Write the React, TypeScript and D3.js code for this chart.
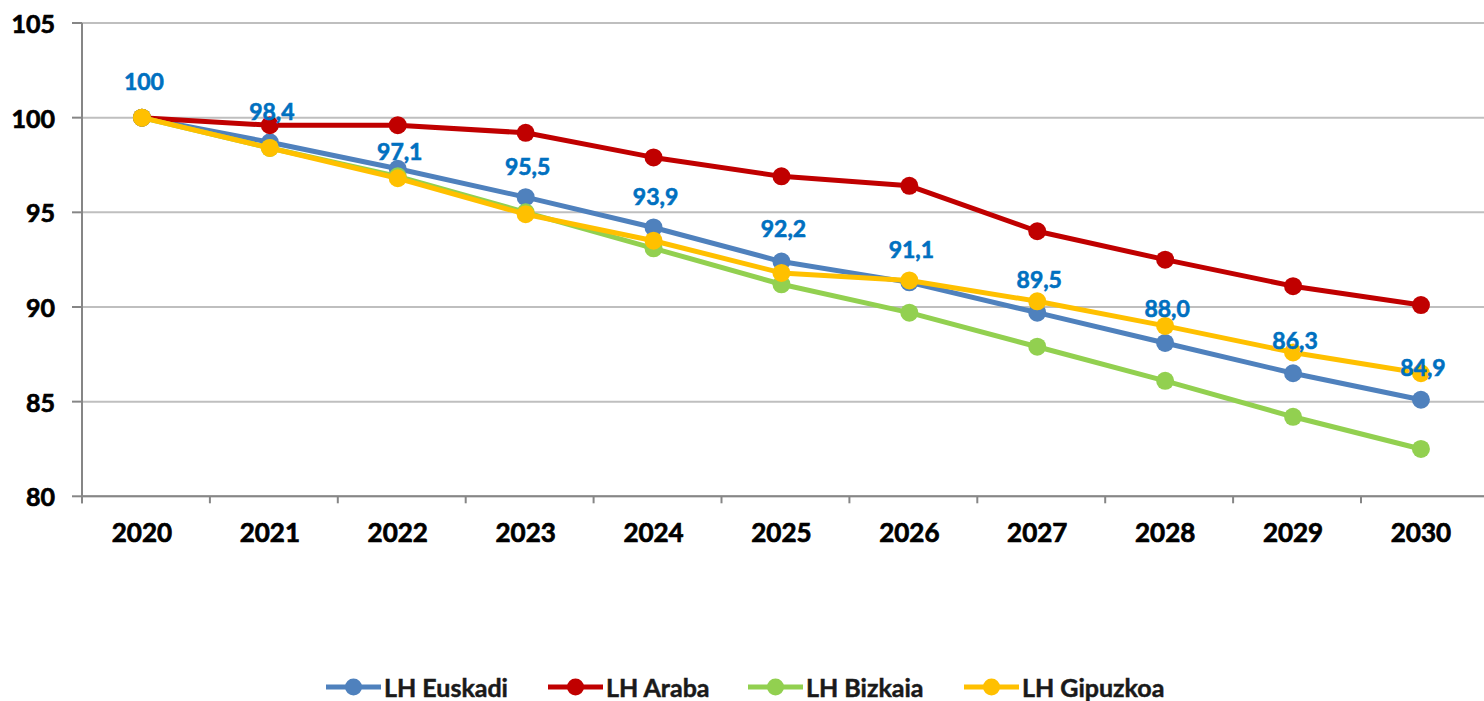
import React from "react";
import * as d3 from "d3";

const years = ["2020", "2021", "2022", "2023", "2024", "2025", "2026", "2027", "2028", "2029", "2030"];
const euskadi = [100, 98.7, 97.3, 95.8, 94.2, 92.4, 91.3, 89.7, 88.1, 86.5, 85.1];
const araba = [100, 99.6, 99.6, 99.2, 97.9, 96.9, 96.4, 94.0, 92.5, 91.1, 90.1];
const bizkaia = [100, 98.4, 96.9, 95.0, 93.1, 91.2, 89.7, 87.9, 86.1, 84.2, 82.5];
const gipuzkoa = [100, 98.4, 96.8, 94.9, 93.5, 91.8, 91.4, 90.3, 89.0, 87.6, 86.5];
const labelValues = [100, 98.4, 97.1, 95.5, 93.9, 92.2, 91.1, 89.5, 88.0, 86.3, 84.9];
const yTicks = [80, 85, 90, 95, 100, 105];

const seriesNames = ["LH Euskadi", "LH Araba", "LH Bizkaia", "LH Gipuzkoa"];
const seriesData = [euskadi, araba, bizkaia, gipuzkoa];
const colors = ["#4F81BD", "#C00000", "#92D050", "#FFC000"];

const W = 1484;
const H = 701;
const FONT = "Lato, 'Open Sans', sans-serif";

export default function App() {
  const x = d3.scaleBand<string>().domain(years).range([82, 82 + 11 * 127.9]).padding(0);
  const cx = (yr: string) => (x(yr) as number) + x.bandwidth() / 2 - 4;
  const y = d3.scaleLinear().domain([80, 105]).range([496.3, 23]);
  const line = d3
    .line<number>()
    .x((_, i) => cx(years[i]))
    .y((d) => y(d));

  const labelShift = (i: number) => (i === 2 ? -22 : -37);
  const legendX = [326, 548, 748, 964];
  const legendY = 687;

  return (
    <svg width={W} height={H} style={{ position: "absolute", left: 0, top: 0, background: "#fff" }}>
      {yTicks.map((t) => (
        <line key={"g" + t} x1={82} x2={W} y1={y(t)} y2={y(t)} stroke="#BFBFBF" strokeWidth={2} />
      ))}
      <line x1={82} x2={82} y1={y(105)} y2={y(80) + 7} stroke="#868686" strokeWidth={2} />
      {yTicks.map((t) => (
        <line key={"yt" + t} x1={72} x2={82} y1={y(t)} y2={y(t)} stroke="#868686" strokeWidth={2} />
      ))}
      {yTicks.map((t) => (
        <text
          key={"yl" + t}
          x={55}
          y={y(t)}
          textAnchor="end"
          dominantBaseline="central"
          fontFamily={FONT}
          fontWeight="bold"
          fontSize={25}
          fill="#000"
          stroke="#000"
          strokeWidth={0.7}
        >
          {t}
        </text>
      ))}
      <line x1={82} x2={W} y1={y(80)} y2={y(80)} stroke="#868686" strokeWidth={2} />
      {years.map((yr) => (
        <line
          key={"xt" + yr}
          x1={x(yr) as number}
          x2={x(yr) as number}
          y1={y(80)}
          y2={y(80) + 7}
          stroke="#868686"
          strokeWidth={2}
        />
      ))}
      {years.map((yr) => (
        <text
          key={"xl" + yr}
          x={cx(yr)}
          y={541.5}
          textAnchor="middle"
          fontFamily={FONT}
          fontWeight="bold"
          fontSize={26}
          fill="#000"
          stroke="#000"
          strokeWidth={0.7}
        >
          {yr}
        </text>
      ))}
      {seriesData.map((s, si) => (
        <g key={"s" + si}>
          <path d={line(s) as string} fill="none" stroke={colors[si]} strokeWidth={5} strokeLinejoin="round" />
          {s.map((v, i) => (
            <circle key={i} cx={cx(years[i])} cy={y(v)} r={9} fill={colors[si]} />
          ))}
        </g>
      ))}
      {labelValues.map((v, i) => (
        <text
          key={"dl" + i}
          x={cx(years[i]) + 2}
          y={y(v) + labelShift(i)}
          textAnchor="middle"
          dominantBaseline="central"
          fontFamily={FONT}
          fontWeight="bold"
          fontSize={23}
          fill="#0070C0"
          stroke="#0070C0"
          strokeWidth={0.6}
        >
          {i === 0 ? "100" : d3.format(".1f")(v).replace(".", ",")}
        </text>
      ))}
      {seriesNames.map((n, si) => (
        <g key={"lg" + si}>
          <line
            x1={legendX[si]}
            x2={legendX[si] + 55}
            y1={legendY}
            y2={legendY}
            stroke={colors[si]}
            strokeWidth={5}
          />
          <circle cx={legendX[si] + 27.5} cy={legendY} r={8.5} fill={colors[si]} />
          <text
            x={legendX[si] + 58}
            y={legendY}
            dominantBaseline="central"
            fontFamily={FONT}
            fontWeight="bold"
            fontSize={25}
            fill="#1a1a1a"
            stroke="#1a1a1a"
            strokeWidth={0.5}
          >
            {n}
          </text>
        </g>
      ))}
    </svg>
  );
}
